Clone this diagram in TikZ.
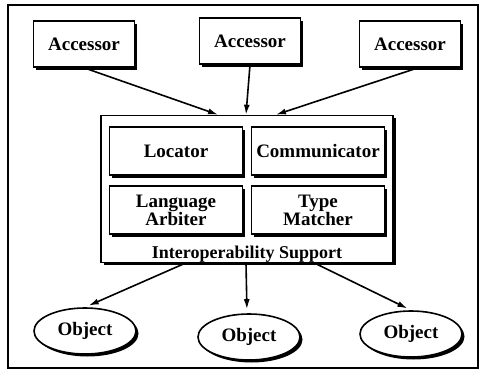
\documentclass[tikz,border=0pt]{standalone}
\usepackage{fontspec}
\setmainfont{Liberation Serif}
\usetikzlibrary{shapes.geometric,shadows,arrows.meta}

\begin{document}
\begin{tikzpicture}[x=1pt,y=-1pt,
	font=\bfseries\fontsize{19}{18}\selectfont,
	boxshadow/.style={drop shadow={shadow xshift=2.5pt,shadow yshift=-2.5pt,fill=black,opacity=1}},
	accbox/.style={draw,line width=1.6pt,fill=white,boxshadow,minimum width=101pt,minimum height=46pt},
	partbox/.style={draw,line width=1.6pt,fill=white,boxshadow,minimum width=133pt,minimum height=48pt,align=center},
	objnode/.style={ellipse,draw,line width=1.6pt,fill=white,boxshadow,minimum width=102pt,minimum height=46pt,inner sep=0pt},
	link/.style={line width=1.6pt,-{Latex[length=10pt,width=6pt]}}]
	\useasboundingbox (0,0) rectangle (485,380);
	\draw[line width=1.4pt] (8,5) rectangle (478,368);
	% accessors
	\node[accbox] (acc1) at (84,44) {Accessor};
	\node[accbox] (acc2) at (250,41) {Accessor};
	\node[accbox] (acc3) at (410,44) {Accessor};
	% interoperability support
	\node[draw,line width=1.6pt,fill=white,boxshadow,minimum width=292pt,minimum height=147pt] (support) at (247,189) {};
	\node[partbox] (locator) at (176,151) {Locator};
	\node[partbox] (comm) at (318,151) {Communicator};
	\node[partbox] (arbiter) at (176,210) {Language\\Arbiter};
	\node[partbox] (matcher) at (318,210) {Type\\Matcher};
	\node[font=\bfseries\fontsize{18}{18}\selectfont] (label) at (247,254) {Interoperability Support};
	% objects
	\node[objnode] (obj1) at (85,331) {Object};
	\node[objnode] (obj2) at (249,337) {Object};
	\node[objnode] (obj3) at (411,334) {Object};
	\draw[link] (acc1.south) -- ([xshift=-29pt]support.north);
	\draw[link] (acc2.south) -- ([xshift=-1pt]support.north);
	\draw[link] ([xshift=8pt]acc3.south) -- ([xshift=29pt]support.north);
	\draw[link,shorten >=4pt] ([xshift=-62pt]support.south) -- (obj1.north);
	\draw[link,shorten >=4pt] ([xshift=-1pt]support.south) -- ([xshift=-2pt]obj2.north);
	\draw[link,shorten >=4pt] ([xshift=68pt]support.south) -- (obj3.north);
\end{tikzpicture}
\end{document}
